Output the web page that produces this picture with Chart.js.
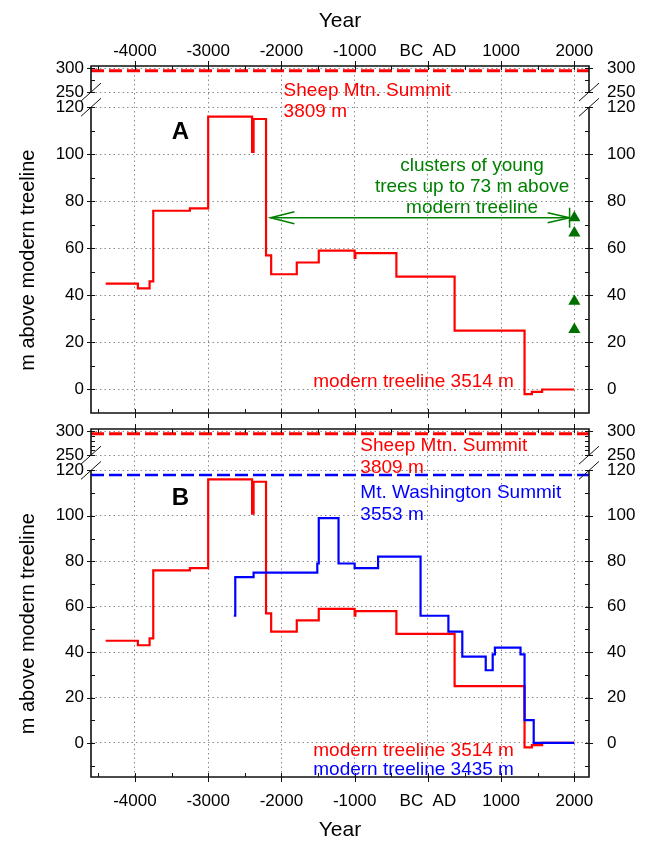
<!DOCTYPE html>
<html>
<head>
<meta charset="utf-8">
<script src="https://cdn.jsdelivr.net/npm/chart.js@4.4.0/dist/chart.umd.min.js"></script>
<style>
  html, body { margin: 0; padding: 0; background: #fff; }
  #wrap { position: relative; width: 646px; height: 843px; }
  canvas { position: absolute; left: 0; }
  #chartA { top: 0; }
  #chartB { top: 421px; }
</style>
</head>
<body>
<div id="wrap">
  <canvas id="chartA" width="646" height="421"></canvas>
  <canvas id="chartB" width="646" height="422"></canvas>
</div>
<script>
// Sheep Mtn. treeline (years, negative = BC; metres above modern treeline)
const sheepYears = [-4400, -3960, -3800, -3750, -3250, -3000, -2400, -2380, -2210, -2140, -1790, -1490, -1000, -990, -430, 365, 1320, 1420, 1560, 2000];
const sheepHeights = [45, 43, 46, 76, 77, 116, 101, 115, 57, 49, 54, 59, 56, 58, 48, 25, -2, -1, 0, 0];

// Mt. Washington treeline
const washYears = [-2650, -2630, -2380, -1510, -1490, -1220, -1000, -680, -100, 280, 470, 790, 885, 915, 1265, 1320, 1445, 2000];
const washHeights = [56, 73, 75, 79, 99, 79, 77, 82, 56, 49, 38, 32, 39, 42, 39, 10, 0, 0];

// clusters of young trees today
const clusterYears = [2000, 2000, 2000, 2000];
const clusterHeights = [73, 66.5, 37.5, 25.5];

// arrow for the young trees
const arrowYears = [-2150, 1935];
const arrowHeights = [73, 73];

// summits above modern treeline
const sheepSummit = 295;   // 3809 - 3514
const washSummit = 118;    // 3553 - 3435

const yearTicks = [-4000, -3000, -2000, -1000, 0, 1000, 2000];
const yearLabels = ['-4000', '-3000', '-2000', '-1000', 'BC  AD', '1000', '2000'];
const heightTicks = [0, 20, 40, 60, 80, 100, 120];
const summitTicks = [250, 300];

const FONT = '"Liberation Sans", Arial, sans-serif';
const RED = '#ff0000', BLUE = '#0000ff', GREEN = '#008000';
const xRange = [-4600, 2200];

function pts(xs, ys) {
    return xs.map((x, i) => ({ x: x, y: ys[i] }));
}

function noPad(s) {
    s.paddingTop = 0; s.paddingBottom = 0; s.paddingLeft = 0; s.paddingRight = 0;
}

function yearAxis(position) {
    const top = position === 'top';
    return {
        type: 'linear', position: position, min: xRange[0], max: xRange[1],
        afterBuildTicks: s => { s.ticks = yearTicks.map(v => ({ value: v })); },
        afterFit: s => { s.height = 66; noPad(s); },
        ticks: {
            autoSkip: false, maxRotation: 0, padding: top ? 4 : 14, color: '#000',
            font: { family: FONT, size: 17 },
            callback: (v, i) => yearLabels[i]
        },
        grid: { color: '#8a8a8a', lineWidth: 1, drawTicks: false },
        border: { display: false, dash: [1.5, 3] },
        title: {
            display: true, text: 'Year', color: '#000',
            font: { family: FONT, size: 21 },
            padding: top ? { top: 9, bottom: 0 } : { top: 0, bottom: 0 }
        }
    };
}

function mainAxis(side, min) {
    const left = side === 'left';
    return {
        type: 'linear', position: side, min: min, max: 120,
        stack: side, stackWeight: 306,
        afterBuildTicks: s => { s.ticks = heightTicks.map(v => ({ value: v })); },
        afterFit: s => { s.width = left ? 91 : 57; noPad(s); },
        ticks: { padding: left ? 7 : 18, color: '#000', font: { family: FONT, size: 17 } },
        grid: { display: left, color: '#8a8a8a', drawTicks: false },
        border: { display: false, dash: [1.5, 3] },
        title: {
            display: left, text: 'm above modern treeline', color: '#000',
            font: { family: FONT, size: 20 }, padding: { top: 16, bottom: 0 }
        }
    };
}

function upperAxis(side) {
    const left = side === 'left';
    return {
        type: 'linear', position: side, min: 218, max: 305,
        stack: side, stackWeight: 41.3,
        afterBuildTicks: s => { s.ticks = summitTicks.map(v => ({ value: v })); },
        afterFit: s => { s.width = left ? 91 : 57; noPad(s); },
        ticks: { padding: left ? 7 : 18, color: '#000', font: { family: FONT, size: 17 } },
        grid: { display: left, color: '#8a8a8a', drawTicks: false },
        border: { display: false, dash: [1.5, 3] }
    };
}

// frame with axis break, small tick marks
const framePlugin = {
    id: 'frame',
    afterDraw(chart, args, opts) {
        const { ctx, chartArea: a, scales } = chart;
        const yBreakTop = scales.yTop.getPixelForValue(250);
        const yBreakLow = scales.y.getPixelForValue(120);
        ctx.save();
        ctx.strokeStyle = '#111';
        ctx.lineWidth = 1;
        // tick marks
        ctx.beginPath();
        for (let v = -4500; v <= 2000; v += 500) {
            const px = Math.round(scales.x.getPixelForValue(v)) + 0.5;
            const major = v % 1000 === 0;
            ctx.moveTo(px, a.top - (major ? 5 : 0)); ctx.lineTo(px, a.top + 4);
            ctx.moveTo(px, a.bottom + (major ? 5 : 0)); ctx.lineTo(px, a.bottom - 4);
        }
        const yTicks = (scale, from, to, step, majors) => {
            for (let v = from; v <= to; v += step) {
                const py = Math.round(scale.getPixelForValue(v)) + 0.5;
                const major = majors.includes(v);
                ctx.moveTo(a.left - (major ? 4 : 0), py); ctx.lineTo(a.left + 4, py);
                ctx.moveTo(a.right + (major ? 4 : 0), py); ctx.lineTo(a.right - 4, py);
            }
        };
        yTicks(scales.y, Math.ceil((scales.y.min + 1) / 10) * 10, 120, 10, heightTicks);
        yTicks(scales.yTop, 250, 300, opts.upperStep, summitTicks);
        ctx.stroke();
        // frame
        ctx.lineWidth = 1.6;
        ctx.beginPath();
        ctx.moveTo(a.left, yBreakTop); ctx.lineTo(a.left, a.top); ctx.lineTo(a.right, a.top); ctx.lineTo(a.right, yBreakTop);
        ctx.moveTo(a.left, yBreakLow); ctx.lineTo(a.left, a.bottom); ctx.lineTo(a.right, a.bottom); ctx.lineTo(a.right, yBreakLow);
        ctx.stroke();
        // break slashes
        ctx.lineWidth = 1;
        ctx.beginPath();
        [a.left, a.right].forEach(x => {
            [yBreakTop, yBreakLow].forEach(y => {
                ctx.moveTo(x - 10, y + 9); ctx.lineTo(x + 10, y - 9);
            });
        });
        ctx.stroke();
        ctx.restore();
    }
};

// open arrow heads on the young-tree arrow
const arrowPlugin = {
    id: 'arrowHeads',
    afterDatasetsDraw(chart) {
        chart.data.datasets.forEach((ds, i) => {
            if (!ds.arrow) return;
            const p = chart.getDatasetMeta(i).data;
            const l = p[0], r = p[p.length - 1];
            const ctx = chart.ctx;
            ctx.save();
            ctx.strokeStyle = ds.borderColor;
            ctx.lineWidth = 1.5;
            ctx.beginPath();
            ctx.moveTo(l.x + 24, l.y - 6); ctx.lineTo(l.x, l.y); ctx.lineTo(l.x + 24, l.y + 6);
            ctx.moveTo(r.x - 22, r.y - 5); ctx.lineTo(r.x, r.y); ctx.lineTo(r.x - 22, r.y + 5);
            ctx.moveTo(r.x, r.y - 10); ctx.lineTo(r.x, r.y + 10);
            ctx.stroke();
            ctx.restore();
        });
    }
};

// text labels placed in data coordinates
const notesPlugin = {
    id: 'notes',
    afterDraw(chart, args, opts) {
        const ctx = chart.ctx;
        ctx.save();
        ctx.textBaseline = 'alphabetic';
        opts.items.forEach(n => {
            ctx.font = (n.bold ? 'bold ' : '') + n.size + 'px ' + FONT;
            ctx.fillStyle = n.color;
            ctx.textAlign = n.align || 'left';
            ctx.fillText(n.text, chart.scales.x.getPixelForValue(n.x), chart.scales[n.axis].getPixelForValue(n.y));
        });
        ctx.restore();
    }
};

function baseOptions(xPos, yMin, padding, upperStep, notes) {
    return {
        responsive: false,
        animation: false,
        devicePixelRatio: 1,
        events: [],
        layout: { padding: padding },
        scales: {
            x: yearAxis(xPos),
            y: mainAxis('left', yMin),
            yTop: upperAxis('left'),
            yTopR: upperAxis('right'),
            yR: mainAxis('right', yMin)
        },
        plugins: {
            legend: { display: false },
            tooltip: { enabled: false },
            frame: { upperStep: upperStep },
            notes: { items: notes }
        }
    };
}

function stepLine(xs, ys, color, order) {
    return {
        data: pts(xs, ys), yAxisID: 'y', stepped: true, borderColor: color,
        borderWidth: 2.2, pointRadius: 0, fill: false, order: order
    };
}

function summitLine(value, axis, color, width) {
    return {
        data: pts(xRange, [value, value]), yAxisID: axis, borderColor: color,
        borderWidth: width, borderDash: [13, 5], pointRadius: 0, fill: false, order: 3
    };
}

// Panel A
new Chart(document.getElementById('chartA'), {
    type: 'line',
    data: {
        datasets: [
            stepLine(sheepYears, sheepHeights, RED, 1),
            summitLine(sheepSummit, 'yTop', RED, 2.8),
            {
                data: pts(arrowYears, arrowHeights), yAxisID: 'y', borderColor: GREEN,
                borderWidth: 1.5, pointRadius: 0, fill: false, arrow: true, order: 2
            },
            {
                data: pts(clusterYears, clusterHeights), yAxisID: 'y', showLine: false,
                pointStyle: 'triangle', pointRadius: 7, pointBackgroundColor: '#007000',
                pointBorderWidth: 0, order: 0
            }
        ]
    },
    options: baseOptions('top', -10, { top: 0, bottom: 8, left: 0, right: 0 }, 25, [
        { text: 'A', x: -3380, y: 106.5, axis: 'y', color: '#000', size: 24, bold: true, align: 'center' },
        { text: 'Sheep Mtn. Summit', x: -1970, y: 242, axis: 'yTop', color: RED, size: 19 },
        { text: '3809 m', x: -1970, y: 116, axis: 'y', color: RED, size: 19 },
        { text: 'clusters of young', x: 604, y: 93.1, axis: 'y', color: GREEN, size: 19, align: 'center' },
        { text: 'trees up to 73 m above', x: 604, y: 84, axis: 'y', color: GREEN, size: 19, align: 'center' },
        { text: 'modern treeline', x: 604, y: 75, axis: 'y', color: GREEN, size: 19, align: 'center' },
        { text: 'modern treeline 3514 m', x: -1565, y: 1, axis: 'y', color: RED, size: 19 }
    ]),
    plugins: [framePlugin, arrowPlugin, notesPlugin]
});

// Panel B
new Chart(document.getElementById('chartB'), {
    type: 'line',
    data: {
        datasets: [
            stepLine(washYears, washHeights, BLUE, 0),
            stepLine(sheepYears, sheepHeights, RED, 1),
            summitLine(sheepSummit, 'yTop', RED, 2.8),
            summitLine(washSummit, 'y', BLUE, 2.4)
        ]
    },
    options: baseOptions('bottom', -15, { top: 8, bottom: 0, left: 0, right: 0 }, 10, [
        { text: 'B', x: -3380, y: 104.8, axis: 'y', color: '#000', size: 24, bold: true, align: 'center' },
        { text: 'Sheep Mtn. Summit', x: -922, y: 257.8, axis: 'yTop', color: RED, size: 19 },
        { text: '3809 m', x: -922, y: 118.8, axis: 'y', color: RED, size: 19 },
        { text: 'Mt. Washington Summit', x: -922, y: 107.8, axis: 'y', color: BLUE, size: 19 },
        { text: '3553 m', x: -922, y: 98.2, axis: 'y', color: BLUE, size: 19 },
        { text: 'modern treeline 3514 m', x: -1565, y: -5.9, axis: 'y', color: RED, size: 19 },
        { text: 'modern treeline 3435 m', x: -1565, y: -13.9, axis: 'y', color: BLUE, size: 19 }
    ]),
    plugins: [framePlugin, arrowPlugin, notesPlugin]
});
</script>
</body>
</html>
